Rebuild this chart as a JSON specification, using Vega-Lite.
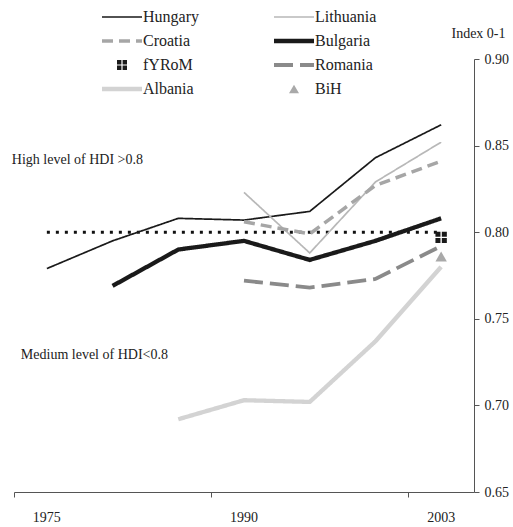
{
  "$schema": "https://vega.github.io/schema/vega-lite/v6.json",
  "width": 460,
  "height": 433,
  "autosize": {"type": "none"},
  "padding": {"left": 14, "top": 59, "right": 39, "bottom": 35},
  "config": {
    "view": {"stroke": null},
    "font": "Liberation Serif"
  },
  "datasets": {
    "hdi": [
      {"country": "Hungary", "year": 1975, "hdi": 0.779},
      {"country": "Hungary", "year": 1980, "hdi": 0.795},
      {"country": "Hungary", "year": 1985, "hdi": 0.808},
      {"country": "Hungary", "year": 1990, "hdi": 0.807},
      {"country": "Hungary", "year": 1995, "hdi": 0.812},
      {"country": "Hungary", "year": 2000, "hdi": 0.843},
      {"country": "Hungary", "year": 2003, "hdi": 0.862},
      {"country": "Lithuania", "year": 1990, "hdi": 0.823},
      {"country": "Lithuania", "year": 1995, "hdi": 0.788},
      {"country": "Lithuania", "year": 2000, "hdi": 0.829},
      {"country": "Lithuania", "year": 2003, "hdi": 0.852},
      {"country": "Croatia", "year": 1990, "hdi": 0.806},
      {"country": "Croatia", "year": 1995, "hdi": 0.799},
      {"country": "Croatia", "year": 2000, "hdi": 0.827},
      {"country": "Croatia", "year": 2003, "hdi": 0.841},
      {"country": "Bulgaria", "year": 1980, "hdi": 0.769},
      {"country": "Bulgaria", "year": 1985, "hdi": 0.790},
      {"country": "Bulgaria", "year": 1990, "hdi": 0.795},
      {"country": "Bulgaria", "year": 1995, "hdi": 0.784},
      {"country": "Bulgaria", "year": 2000, "hdi": 0.795},
      {"country": "Bulgaria", "year": 2003, "hdi": 0.808},
      {"country": "Romania", "year": 1990, "hdi": 0.772},
      {"country": "Romania", "year": 1995, "hdi": 0.768},
      {"country": "Romania", "year": 2000, "hdi": 0.773},
      {"country": "Romania", "year": 2003, "hdi": 0.792},
      {"country": "Albania", "year": 1985, "hdi": 0.692},
      {"country": "Albania", "year": 1990, "hdi": 0.703},
      {"country": "Albania", "year": 1995, "hdi": 0.702},
      {"country": "Albania", "year": 2000, "hdi": 0.737},
      {"country": "Albania", "year": 2003, "hdi": 0.780},
      {"country": "fYRoM", "year": 2003, "hdi": 0.797},
      {"country": "BiH", "year": 2003, "hdi": 0.786}
    ],
    "threshold": [
      {"year": 1975, "hdi": 0.8},
      {"year": 2003, "hdi": 0.8}
    ]
  },
  "encoding": {
    "x": {
      "field": "year",
      "type": "ordinal",
      "scale": {"type": "band", "domain": [1975, 1980, 1985, 1990, 1995, 2000, 2003], "paddingInner": 0, "paddingOuter": 0},
      "bandPosition": 0.5,
      "axis": {
        "title": null,
        "values": [1975, 1990, 2003],
        "bandPosition": 0,
        "labelOffset": 0,
        "labelAngle": 0,
        "tickSize": 5,
        "labelPadding": 13,
        "domainColor": "#555",
        "tickColor": "#555",
        "labelFont": "Liberation Serif",
        "labelFontSize": 14,
        "labelColor": "#222",
        "grid": false
      }
    },
    "y": {
      "field": "hdi",
      "type": "quantitative",
      "scale": {"domain": [0.65, 0.9], "nice": false, "zero": false},
      "axis": {
        "orient": "right",
        "values": [0.65, 0.7, 0.75, 0.8, 0.85, 0.9],
        "format": ".2f",
        "grid": false,
        "tickSize": 5,
        "labelPadding": 5,
        "domainColor": "#555",
        "tickColor": "#555",
        "labelFont": "Liberation Serif",
        "labelFontSize": 14,
        "labelColor": "#222",
        "title": "Index 0-1",
        "titleAngle": 0,
        "titleX": 4,
        "titleY": -26,
        "titleAlign": "center",
        "titleBaseline": "middle",
        "titleFont": "Liberation Serif",
        "titleFontSize": 14,
        "titleFontWeight": "normal",
        "titleColor": "#222"
      }
    }
  },
  "layer": [
    {
      "data": {"name": "threshold"},
      "mark": {"type": "line", "color": "#111", "strokeWidth": 3, "strokeDash": [3, 6], "strokeCap": "butt"},
      "encoding": {}
    },
    {
      "data": {"name": "hdi"},
      "transform": [{"filter": "datum.country !== 'fYRoM' && datum.country !== 'BiH'"}],
      "mark": {"type": "line", "strokeCap": "butt", "strokeJoin": "miter"},
      "encoding": {
        "color": {
          "field": "country",
          "type": "nominal",
          "scale": {
            "domain": ["Hungary", "Croatia", "fYRoM", "Albania", "Lithuania", "Bulgaria", "Romania", "BiH"],
            "range": ["#1a1a1a", "#a6a6a6", "#1a1a1a", "#d3d3d3", "#b8b8b8", "#1a1a1a", "#8a8a8a", "#a9a9a9"]
          },
          "legend": {
            "orient": "none", "legendX": 88, "legendY": -50, "columns": 2, "columnPadding": 66, "rowPadding": 7,
            "symbolSize": 100, "symbolOffset": 12, "labelOffset": 13, "labelFont": "Liberation Serif", "labelFontSize": 16,
            "labelColor": "#222", "title": null, "padding": 0,
            "encode": {"symbols": {"update": {"shape": {"signal": "scale('shape', datum.value)"}, "fill": {"signal": "scale('color', datum.value)"}}}}
          }
        },
        "strokeDash": {
          "field": "country",
          "type": "nominal",
          "scale": {
            "domain": ["Hungary", "Croatia", "fYRoM", "Albania", "Lithuania", "Bulgaria", "Romania", "BiH"],
            "range": [[1, 0], [11, 6], [1, 0], [1, 0], [1, 0], [1, 0], [19, 7], [1, 0]]
          },
          "legend": {
            "orient": "none", "legendX": 88, "legendY": -50, "columns": 2, "columnPadding": 66, "rowPadding": 7,
            "symbolSize": 100, "symbolOffset": 12, "labelOffset": 13, "labelFont": "Liberation Serif", "labelFontSize": 16,
            "labelColor": "#222", "title": null, "padding": 0,
            "encode": {"symbols": {"update": {"shape": {"signal": "scale('shape', datum.value)"}, "fill": {"signal": "scale('color', datum.value)"}}}}
          }
        },
        "strokeWidth": {
          "field": "country",
          "type": "nominal",
          "scale": {
            "type": "ordinal",
            "domain": ["Hungary", "Croatia", "fYRoM", "Albania", "Lithuania", "Bulgaria", "Romania", "BiH"],
            "range": [1.7, 3.5, 0, 4.3, 1.7, 4.3, 3.8, 0]
          },
          "legend": {
            "orient": "none", "legendX": 88, "legendY": -50, "columns": 2, "columnPadding": 66, "rowPadding": 7,
            "symbolSize": 100, "symbolOffset": 12, "labelOffset": 13, "labelFont": "Liberation Serif", "labelFontSize": 16,
            "labelColor": "#222", "title": null, "padding": 0,
            "encode": {"symbols": {"update": {"shape": {"signal": "scale('shape', datum.value)"}, "fill": {"signal": "scale('color', datum.value)"}}}}
          }
        },
        "order": {"field": "year", "type": "ordinal"}
      }
    },
    {
      "data": {"name": "hdi"},
      "transform": [{"filter": {"field": "country", "oneOf": ["fYRoM", "BiH"]}}],
      "mark": {"type": "point", "filled": true, "opacity": 1, "size": 130},
      "encoding": {
        "color": {"field": "country", "type": "nominal", "legend": null},
        "shape": {
          "field": "country",
          "type": "nominal",
          "scale": {
            "domain": ["Hungary", "Croatia", "fYRoM", "Albania", "Lithuania", "Bulgaria", "Romania", "BiH"],
            "range": ["M-4,0H4", "M-4,0H4", "M-1,-1H-0.12V-0.12H-1ZM0.12,-1H1V-0.12H0.12ZM-1,0.12H-0.12V1H-1ZM0.12,0.12H1V1H0.12Z", "M-4,0H4", "M-4,0H4", "M-4,0H4", "M-4,0H4", "triangle-up"]
          },
          "legend": null
        }
      }
    },
    {
      "data": {"values": [{"label": "High level of HDI >0.8", "year": 1975, "hdi": 0.8417}]},
      "mark": {"type": "text", "align": "left", "baseline": "middle", "dx": -35, "font": "Liberation Serif", "fontSize": 14, "color": "#222"},
      "encoding": {"text": {"field": "label"}}
    },
    {
      "data": {"values": [{"label": "Medium level of HDI<0.8", "year": 1975, "hdi": 0.729}]},
      "mark": {"type": "text", "align": "left", "baseline": "middle", "dx": -26, "font": "Liberation Serif", "fontSize": 14, "color": "#222"},
      "encoding": {"text": {"field": "label"}}
    }
  ]
}
